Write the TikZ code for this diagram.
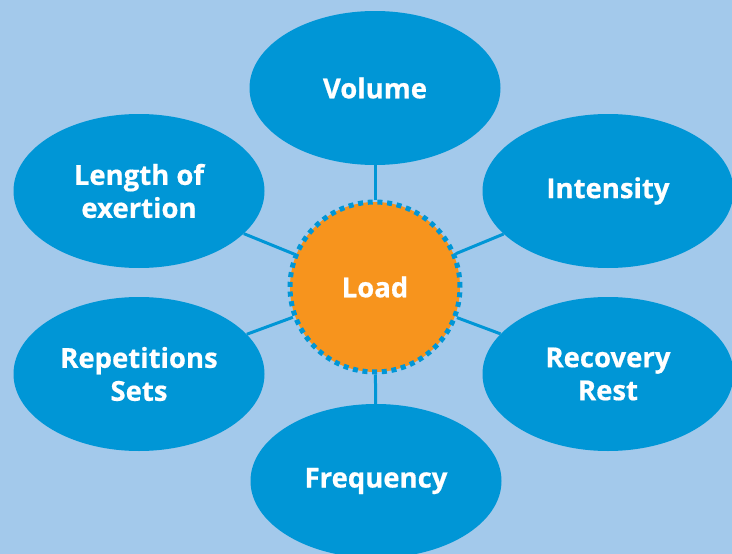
\documentclass[tikz,border=0pt]{standalone}
\usepackage{fontspec}
\setmainfont[BoldFeatures={FakeBold=0.6}]{Open Sans}
\usetikzlibrary{shapes.geometric}
\definecolor{bgblue}{RGB}{163,201,235}
\definecolor{midblue}{RGB}{0,150,214}
\definecolor{loadorange}{RGB}{247,148,29}
\tikzset{
  petal/.style={ellipse, fill=midblue, minimum width=251pt, minimum height=154pt, inner sep=0pt,
    text=white, font=\fontsize{27.5}{33}\selectfont\bfseries, align=center},
  hub/.style={circle, fill=loadorange, draw=midblue, line width=5pt, dash pattern=on 5pt off 4.7pt,
    minimum size=170pt, inner sep=0pt, text=white, font=\fontsize{27.5}{33}\selectfont\bfseries},
  spoke/.style={midblue, line width=3pt}
}
\begin{document}
\begin{tikzpicture}[x=1pt,y=-1pt]
\fill[bgblue] (0,0) rectangle (732,554);
\useasboundingbox (0,0) rectangle (732,554);
\node[petal] (vol) at (375,88) {Volume};
\node[petal] (int) at (608,191) {Intensity};
\node[petal] (rec) at (608,374) {Recovery\\Rest};
\node[petal] (fre) at (376,481) {Frequency};
\node[petal] (rep) at (139,374) {Repetitions\\Sets};
\node[petal] (len) at (139,191) {Length of\\exertion};
\node[hub] (load) at (375,287) {Load};
\foreach \n in {vol,int,rec,fre,rep,len}{
  \draw[spoke] (load) -- (\n);
}
\end{tikzpicture}
\end{document}
